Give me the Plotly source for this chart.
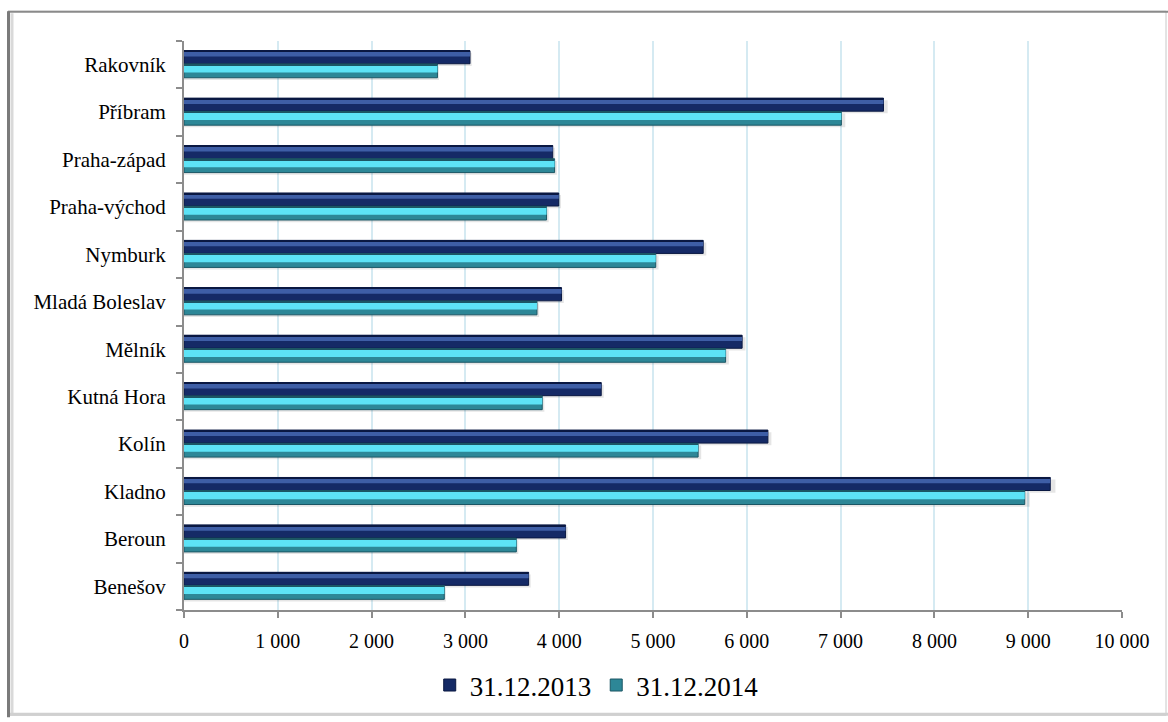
import plotly.graph_objects as go

# Districts of the Central Bohemian region, bottom to top
districts = [
    "Benešov", "Beroun", "Kladno", "Kolín", "Kutná Hora", "Mělník",
    "Mladá Boleslav", "Nymburk", "Praha-východ", "Praha-západ", "Příbram", "Rakovník",
]
values_2013 = [3674, 4068, 9235, 6225, 4448, 5950, 4025, 5535, 3995, 3931, 7457, 3049]
values_2014 = [2775, 3543, 8963, 5481, 3819, 5774, 3763, 5029, 3865, 3951, 7008, 2702]
series_names = ["31.12.2013", "31.12.2014"]
x_ticks = [0, 1000, 2000, 3000, 4000, 5000, 6000, 7000, 8000, 9000, 10000]
x_tick_text = ["0", "1 000", "2 000", "3 000", "4 000", "5 000",
               "6 000", "7 000", "8 000", "9 000", "10 000"]

W, H = 1168, 722
ML, MR, MT, MB = 184, 46, 41, 108
PW, PH = W - ML - MR, H - MT - MB

SERIF = "Liberation Serif"

fig = go.Figure()

# (values, name, base colour, highlight colour, outline, offset, width, highlight share)
styles = [
    (values_2013, series_names[0], "#152A66", "#3E5EA6", "#0A1842", 0.02, 0.275, 0.38),
    (values_2014, series_names[1], "#2D8797", "#5DE3F6", "#1B5664", -0.275, 0.29, 0.55),
]

for vals, name, base, hi, edge, off, wid, share in styles:
    # soft shadow under each bar
    fig.add_trace(go.Bar(
        y=districts, x=[v * 1.006 for v in vals], orientation="h",
        offset=off - 0.045, width=wid,
        marker=dict(color="rgba(0,0,0,0.10)", line=dict(width=0)),
        showlegend=False, hoverinfo="skip",
    ))
    fig.add_trace(go.Bar(
        y=districts, x=vals, orientation="h", name=name,
        offset=off, width=wid,
        marker=dict(color=base, line=dict(color=edge, width=1)),
        hovertemplate="%{y}: %{x:,}<extra>" + name + "</extra>",
    ))
    # upper lighter band giving the bevelled look
    fig.add_trace(go.Bar(
        y=districts, x=vals, orientation="h",
        offset=off + wid * (1 - share) - 0.02, width=wid * share,
        marker=dict(color=hi, line=dict(width=0)),
        showlegend=False, hoverinfo="skip",
    ))
    # thin dark top edge
    fig.add_trace(go.Bar(
        y=districts, x=vals, orientation="h",
        offset=off + wid - 0.025, width=0.025,
        marker=dict(color=edge, line=dict(width=0)),
        showlegend=False, hoverinfo="skip",
    ))


def px_x(p):
    return (p - ML) / PW


def px_y(p):
    return (H - MB - p) / PH


shapes = [
    # outer frame
    dict(type="rect", xref="paper", yref="paper",
         x0=px_x(8), x1=px_x(1166), y0=px_y(720), y1=px_y(11),
         line=dict(color="#c8c8c8", width=1), fillcolor="rgba(0,0,0,0)", layer="below"),
    dict(type="line", xref="paper", yref="paper",
         x0=px_x(8), x1=px_x(1168), y0=px_y(11.5), y1=px_y(11.5),
         line=dict(color="#8a8a8a", width=2)),
    dict(type="line", xref="paper", yref="paper",
         x0=px_x(8.5), x1=px_x(8.5), y0=px_y(722), y1=px_y(11),
         line=dict(color="#7a7a7a", width=3)),
    dict(type="line", xref="paper", yref="paper",
         x0=px_x(12), x1=px_x(12), y0=px_y(720), y1=px_y(13),
         line=dict(color="#d9d9d9", width=3)),
    dict(type="line", xref="paper", yref="paper",
         x0=px_x(10), x1=px_x(1168), y0=px_y(719), y1=px_y(719),
         line=dict(color="#d0d0d0", width=3)),
]

fig.update_layout(
    width=W, height=H,
    margin=dict(l=ML, r=MR, t=MT, b=MB),
    paper_bgcolor="white", plot_bgcolor="white",
    barmode="overlay",
    font=dict(family=SERIF, color="black", size=20),
    showlegend=True,
    legend=dict(
        orientation="h", x=0.44, y=px_y(690), xanchor="center", yanchor="middle",
        font=dict(family=SERIF, size=27, color="black"),
        itemwidth=30, tracegroupgap=0, bgcolor="rgba(0,0,0,0)",
    ),
    shapes=shapes,
    xaxis=dict(
        range=[0, 10000], tickvals=x_ticks, ticktext=x_tick_text,
        showgrid=True, gridcolor="#d5eaf2", gridwidth=1.5,
        showline=True, linecolor="#8c8c8c", linewidth=2,
        ticks="outside", ticklen=6, tickcolor="#8c8c8c", tickwidth=2,
        tickfont=dict(family=SERIF, size=20, color="black"),
        ticklabelstandoff=6, zeroline=False, fixedrange=True,
    ),
    yaxis=dict(
        categoryorder="array", categoryarray=districts,
        range=[-0.5, len(districts) - 0.5],
        showgrid=False, showline=True, linecolor="#8c8c8c", linewidth=2,
        ticks="outside", ticklen=6, tickcolor="#8c8c8c", tickwidth=2,
        tickson="boundaries",
        tickfont=dict(family=SERIF, size=21, color="black"),
        ticklabelstandoff=12, fixedrange=True,
    ),
)

fig.write_html("out.html")
